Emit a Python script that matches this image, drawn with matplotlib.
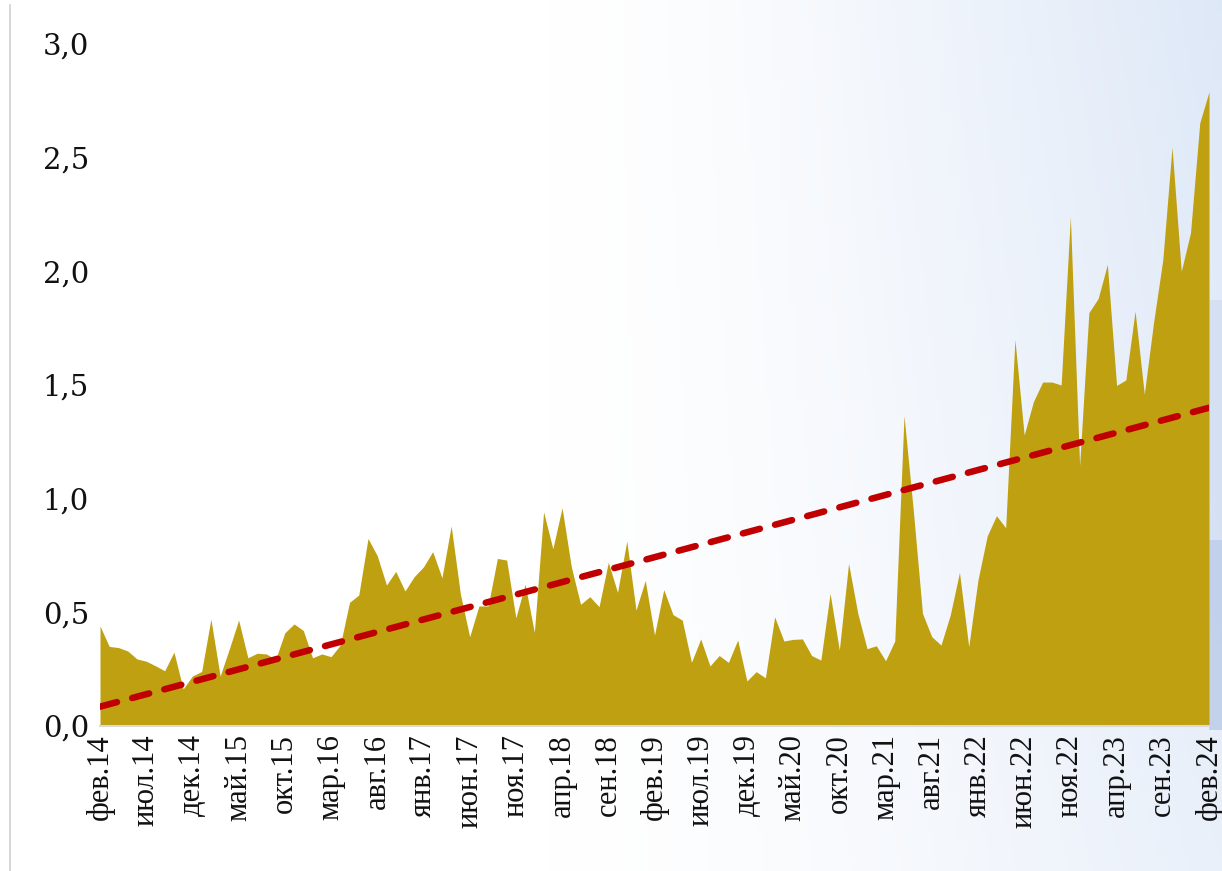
import numpy as np
import matplotlib
matplotlib.use("Agg")
import matplotlib.pyplot as plt
from matplotlib.ticker import FuncFormatter, FixedLocator

# ---- data ----
values = [
    0.44, 0.35, 0.345, 0.33, 0.295, 0.285, 0.265, 0.243, 0.325, 0.163,
    0.22, 0.24, 0.47, 0.22, 0.34, 0.466, 0.30, 0.32, 0.317, 0.293,
    0.41, 0.449, 0.42, 0.30, 0.317, 0.305, 0.356, 0.544, 0.576, 0.825,
    0.749, 0.62, 0.68, 0.594, 0.657, 0.70, 0.767, 0.652, 0.88, 0.58,
    0.393, 0.528, 0.528, 0.737, 0.73, 0.476, 0.624, 0.412, 0.942, 0.78,
    0.96, 0.70, 0.535, 0.569, 0.525, 0.72, 0.588, 0.813, 0.51, 0.64,
    0.40, 0.60, 0.49, 0.466, 0.28, 0.383, 0.264, 0.31, 0.28, 0.378,
    0.198, 0.239, 0.212, 0.48, 0.374, 0.381, 0.383, 0.31, 0.29, 0.583,
    0.334, 0.715, 0.495, 0.34, 0.353, 0.287, 0.374, 1.365, 0.95, 0.495,
    0.393, 0.356, 0.488, 0.676, 0.349, 0.642, 0.836, 0.925, 0.872, 1.70,
    1.28, 1.427, 1.513, 1.513, 1.50, 2.24, 1.146, 1.818, 1.88, 2.03,
    1.498, 1.522, 1.825, 1.46, 1.775, 2.05, 2.546, 2.0, 2.17, 2.653,
    2.79,
]
tick_labels = [
    "фев.14", "июл.14", "дек.14", "май.15", "окт.15", "мар.16", "авг.16",
    "янв.17", "июн.17", "ноя.17", "апр.18", "сен.18", "фев.19", "июл.19",
    "дек.19", "май.20", "окт.20", "мар.21", "авг.21", "янв.22", "июн.22",
    "ноя.22", "апр.23", "сен.23", "фев.24",
]
label_step = 5
trend_start = 0.085
trend_end = 1.40
y_ticks = [0.0, 0.5, 1.0, 1.5, 2.0, 2.5, 3.0]

# ---- figure ----
W, H = 1222, 871
fig = plt.figure(figsize=(W / 100, H / 100), dpi=100)

# background gradient (slide-like)
bg = fig.add_axes([0, 0, 1, 1], zorder=-10)
bg.set_axis_off()
xs = np.linspace(0, 1, 300)
ys = np.linspace(0, 1, 200)
X, Y = np.meshgrid(xs, ys)
t = np.clip((X - 0.45) / 0.55, 0, 1) ** 1.4 * (1 - 0.35 * Y)
white = np.array([1.0, 1.0, 1.0])
blue = np.array([0.87, 0.91, 0.97])
img = white[None, None, :] * (1 - t[..., None]) + blue[None, None, :] * t[..., None]
bg.imshow(img, extent=[0, 1, 0, 1], aspect="auto", origin="upper")
# faint slide decoration at the right edge
bg.add_patch(plt.Rectangle((1209 / W, 1 - 730 / H), 1, (730 - 540) / H, color="#b9cbe8", alpha=0.8, lw=0))
bg.add_patch(plt.Rectangle((1209 / W, 1 - 540 / H), 1, (540 - 300) / H, color="#d3def2", alpha=0.8, lw=0))
bg.plot([10 / W, 10 / W], [0, 1 - 5 / H], color="#d0d0d0", lw=1.2)
bg.set_xlim(0, 1)
bg.set_ylim(0, 1)

left, right = 100 / W, 1209 / W
bottom, top = 1 - 726 / H, 1 - 44 / H
ax = fig.add_axes([left, bottom, right - left, top - bottom])
ax.patch.set_alpha(0)

x = np.arange(len(values))
ax.fill_between(x, values, 0, color="#BFA010", lw=0, zorder=2)
ax.plot([x[0], x[-1]], [trend_start, trend_end], color="#C00000", lw=4.7,
        dashes=(2.7, 2.4), dash_capstyle="round", zorder=3)

ax.set_xlim(x[0], x[-1])
ax.set_ylim(0, 3.0)
ax.yaxis.set_major_locator(FixedLocator(y_ticks))
ax.yaxis.set_major_formatter(FuncFormatter(lambda v, p: f"{v:.1f}".replace(".", ",")))
ax.set_xticks(x[::label_step])
ax.set_xticklabels(tick_labels, rotation=90, fontfamily="Liberation Serif",
                   fontsize=22, color="#111111")
for lbl in ax.get_yticklabels():
    lbl.set_fontfamily("DejaVu Serif")
    lbl.set_fontsize(21)
    lbl.set_color("#111111")
ax.tick_params(axis="both", length=0)
ax.tick_params(axis="y", pad=8)
ax.tick_params(axis="x", pad=6)
for s in ["left", "right", "top"]:
    ax.spines[s].set_visible(False)
ax.spines["bottom"].set_color("#d9d9d9")
ax.spines["bottom"].set_linewidth(1.5)

fig.savefig("out.png", dpi=100)
